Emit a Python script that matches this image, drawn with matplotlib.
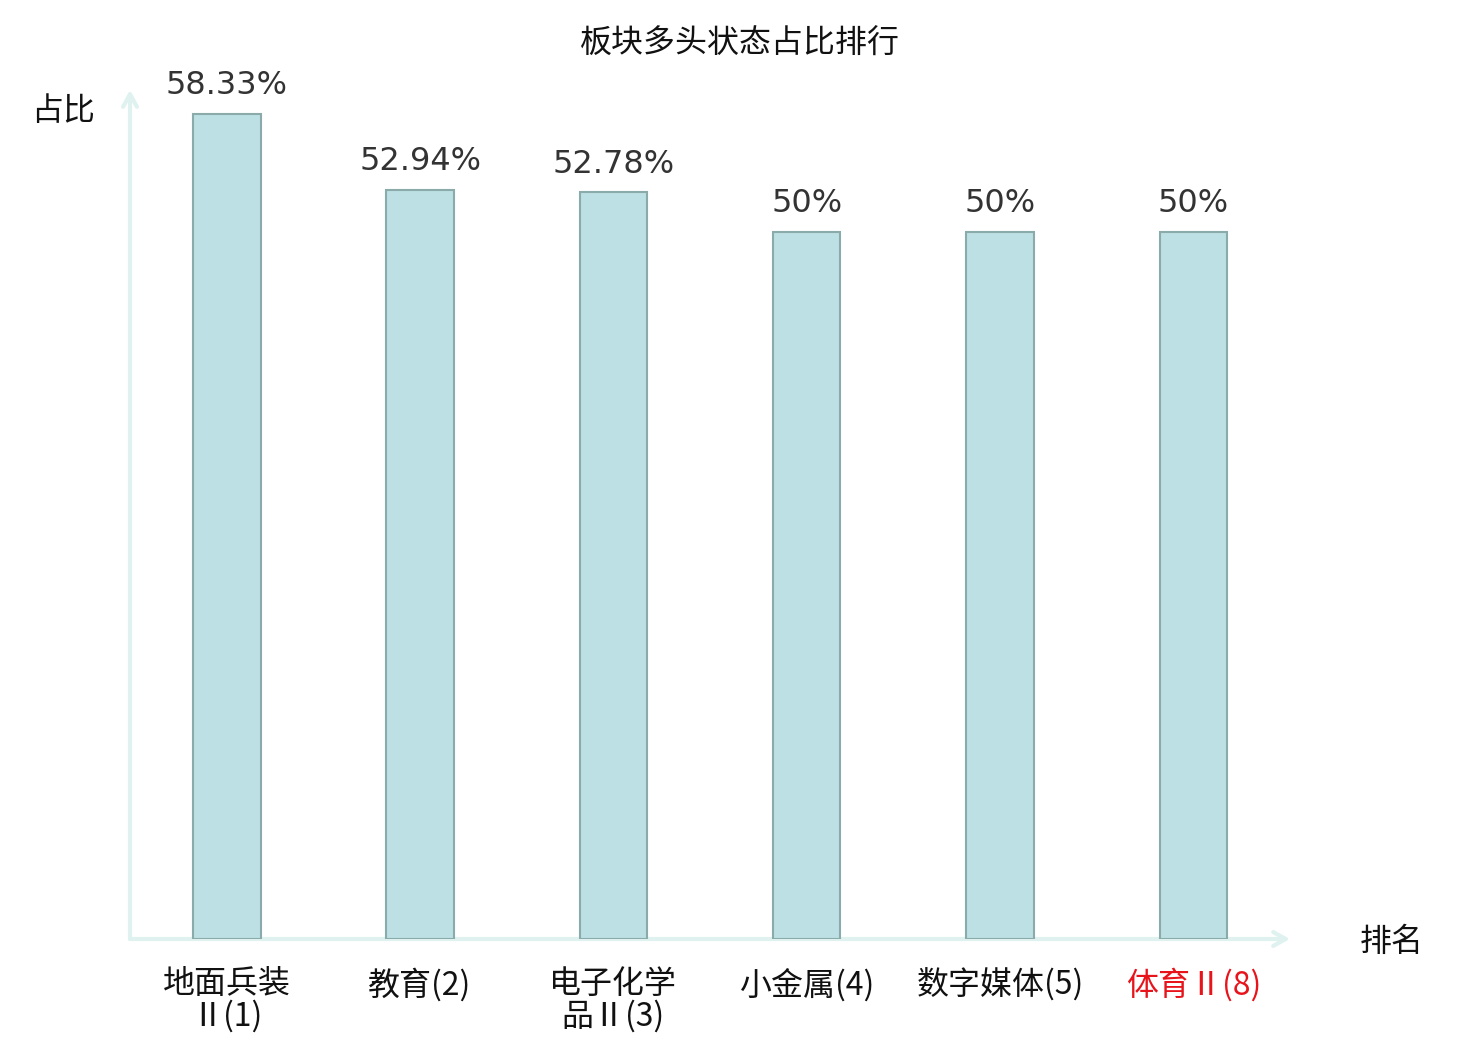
import matplotlib
matplotlib.use("Agg")
import matplotlib.pyplot as plt

categories = ["地面兵装\nⅡ(1)", "教育(2)", "电子化学\n品Ⅱ(3)", "小金属(4)", "数字媒体(5)", "体育Ⅱ(8)"]
values = [58.33, 52.94, 52.78, 50, 50, 50]
value_labels = ["58.33%", "52.94%", "52.78%", "50%", "50%", "50%"]
label_colors = ["#111111", "#111111", "#111111", "#111111", "#111111", "#e8141b"]

plt.rcParams['font.family'] = ['Noto Sans CJK SC', 'DejaVu Sans']

fig = plt.figure(figsize=(14.8, 10.4), dpi=100)
ax = fig.add_axes([130/1480, 1 - 939/1040, (1290-130)/1480, (939-90)/1040])

x = list(range(len(categories)))
ax.bar(x, values, width=0.35, color="#bce0e3", edgecolor="#8aaba9", linewidth=1.5, zorder=2)
ax.set_xlim(-0.5, 5.5)
ax.set_ylim(0, 60)

for xi, v, lab in zip(x, values, value_labels):
    ax.annotate(lab, (xi, v), xytext=(0, 9), textcoords="offset points",
                ha="center", va="bottom", fontsize=23, color="#333333",
                family="DejaVu Sans")

for s in ax.spines.values():
    s.set_visible(False)
ax.set_yticks([])
ax.set_xticks(x)
ax.set_xticklabels(categories, fontsize=23, linespacing=0.98)
for t, c in zip(ax.get_xticklabels(), label_colors):
    t.set_color(c)
ax.tick_params(axis="x", length=0, pad=21)

axis_color = "#dff2ef"
ax.annotate("", xy=(1.0, 0), xytext=(0, 0), xycoords="axes fraction",
            arrowprops=dict(arrowstyle="->,head_length=0.9,head_width=0.5", color=axis_color, lw=3,
                            shrinkA=0, shrinkB=0), zorder=1, annotation_clip=False)
ax.annotate("", xy=(0, 1.0), xytext=(0, 0), xycoords="axes fraction",
            arrowprops=dict(arrowstyle="->,head_length=0.9,head_width=0.5", color=axis_color, lw=3,
                            shrinkA=0, shrinkB=0), zorder=1, annotation_clip=False)

fig.text(63/1480, 1 - 111/1040, "占比", fontsize=23, ha="center", va="center", color="#111111")
fig.text(1392/1480, 1 - 942/1040, "排名", fontsize=23, ha="center", va="center", color="#111111")
fig.text(0.5, 1 - 44/1040, "板块多头状态占比排行", fontsize=23, ha="center", va="center", color="#111111")

fig.savefig("out.png", dpi=100, facecolor="white")
